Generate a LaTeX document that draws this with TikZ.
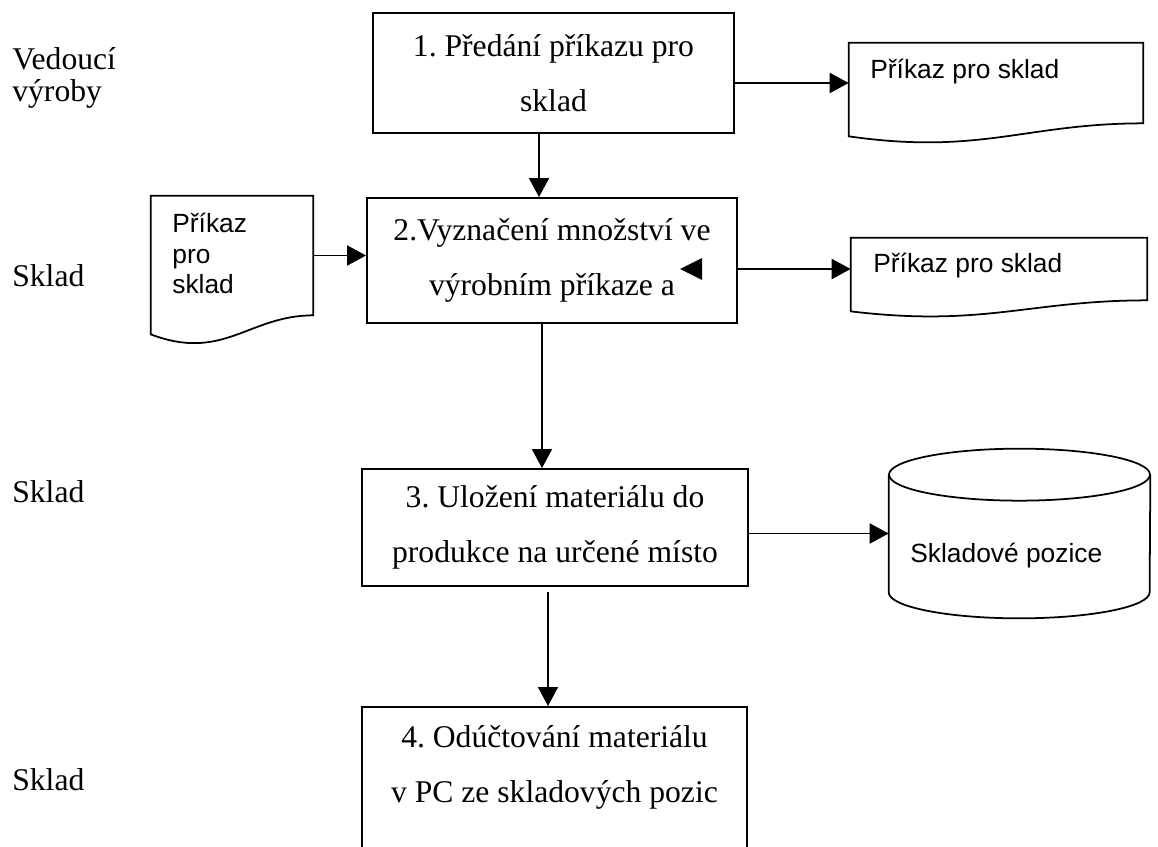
\documentclass[tikz,border=0pt]{standalone}
\usepackage{fontspec}
\setmainfont{Liberation Serif}
\newfontfamily\sansf{Liberation Sans}
\usetikzlibrary{arrows.meta,positioning,calc}
\frenchspacing

% document symbol with a wavy lower edge: node, width, drop at the left
\newcommand{\docoutline}[3]{%
  \draw[shapeline] (#1.north west) -- (#1.north east) -- (#1.south east)
    .. controls +(-#2*0.4,0) and +(#2*0.45,#3*1.46) .. ($(#1.south west)+(0,#3)$) -- cycle;}

\begin{document}
\begin{tikzpicture}[x=0.02cm,y=-0.02cm,
    every node/.style={inner sep=0pt},
    stepbox/.style={draw,line width=1.1pt,align=center,font=\fontsize{18}{31.3}\selectfont},
    docframe/.style={draw=none},
    doctext/.style={font=\sansf\fontsize{15}{17.4}\selectfont,align=left},
    lane/.style={font=\fontsize{18}{18.4}\selectfont,align=left},
    shapeline/.style={line width=1pt},
    flow/.style={line width=1.1pt,-{Triangle[length=0.38cm,width=0.4cm]}}]
    \useasboundingbox (0,0) rectangle (1158,847);
    % Lanes
    \node[lane,anchor=north west] (laneA) at (12,47) {Vedoucí\\výroby};
    \node[lane,anchor=base west] (laneB) at (12,287) {Sklad};
    \node[lane,anchor=base west] (laneC) at (12,502) {Sklad};
    \node[lane,anchor=base west] (laneD) at (12,790) {Sklad};
    % Steps
    \node[stepbox,minimum width=7.22cm,minimum height=2.4cm] (step1) at (553.5,73) {1. Předání příkazu pro\\sklad};
    \node[stepbox,minimum width=7.4cm,minimum height=2.5cm] (step2) at (552,260.5) {2.Vyznačení množství ve\\výrobním příkaze a};
    \node[stepbox,minimum width=7.72cm,minimum height=2.34cm] (step3) at (555,527.5) {3. Uložení materiálu do\\produkce na určené místo};
    \node[stepbox,minimum width=7.7cm,minimum height=3.38cm,anchor=north] (step4) at (554.5,706) {4. Odúčtování materiálu\\v PC ze skladových pozic\\\mbox{}};
    % Documents
    \node[docframe,minimum width=5.88cm,minimum height=1.6cm] (orderA) at (996,83) {};
    \node[docframe,minimum width=5.92cm,minimum height=1.24cm] (orderB) at (999,269) {};
    \node[docframe,minimum width=3.24cm,minimum height=2.38cm] (orderIn) at (232,255.5) {};
    \docoutline{orderA}{294}{13}
    \docoutline{orderB}{296}{11}
    \docoutline{orderIn}{162}{19}
    \node[doctext,anchor=base west] (orderAtext) at (870,79) {Příkaz pro sklad};
    \node[doctext,anchor=base west] (orderBtext) at (873,273) {Příkaz pro sklad};
    \node[doctext,anchor=north west] (orderIntext) at (172,213) {Příkaz\\pro\\sklad};
    % Storage
    \node[docframe,minimum width=5.22cm,minimum height=3.38cm] (store) at (1019.5,533.5) {};
    \draw[shapeline] ($(store.north west)+(0,26)$) -- ($(store.south west)+(0,-26)$)
      arc[start angle=180,end angle=360,x radius=2.61cm,y radius=0.52cm]
      -- ($(store.north east)+(0,26)$);
    \draw[shapeline] ($(store.north)+(0,26)$) ellipse [x radius=2.61cm,y radius=0.52cm];
    \node[doctext,anchor=base west] (storetext) at (910,562) {Skladové pozice};
    % Connectors
    \coordinate (colA) at (539,0);
    \coordinate (colB) at (542,0);
    \coordinate (colC) at (548,0);
    \draw[flow] (step1.south -| colA) -- (step2.north -| colA);
    \draw[flow] (step2.south -| colB) -- (step3.north -| colB);
    \draw[flow,shorten <=3pt] (step3.south -| colC) -- (step4.north -| colC);
    \draw[flow] (orderA.west -| step1.east) -- (orderA.west);
    \draw[flow] (orderIn.east) -- (orderIn.east -| step2.west);
    \draw[flow] (orderB.west -| step2.east) -- (orderB.west);
    \draw[flow] (store.west -| step3.east) -- (store.west);
    % Loose arrow tip in step 2
    \coordinate (stray) at (680,269);
    \fill (stray) -- ++(22,-11) -- ++(0,22) -- cycle;
\end{tikzpicture}
\end{document}
